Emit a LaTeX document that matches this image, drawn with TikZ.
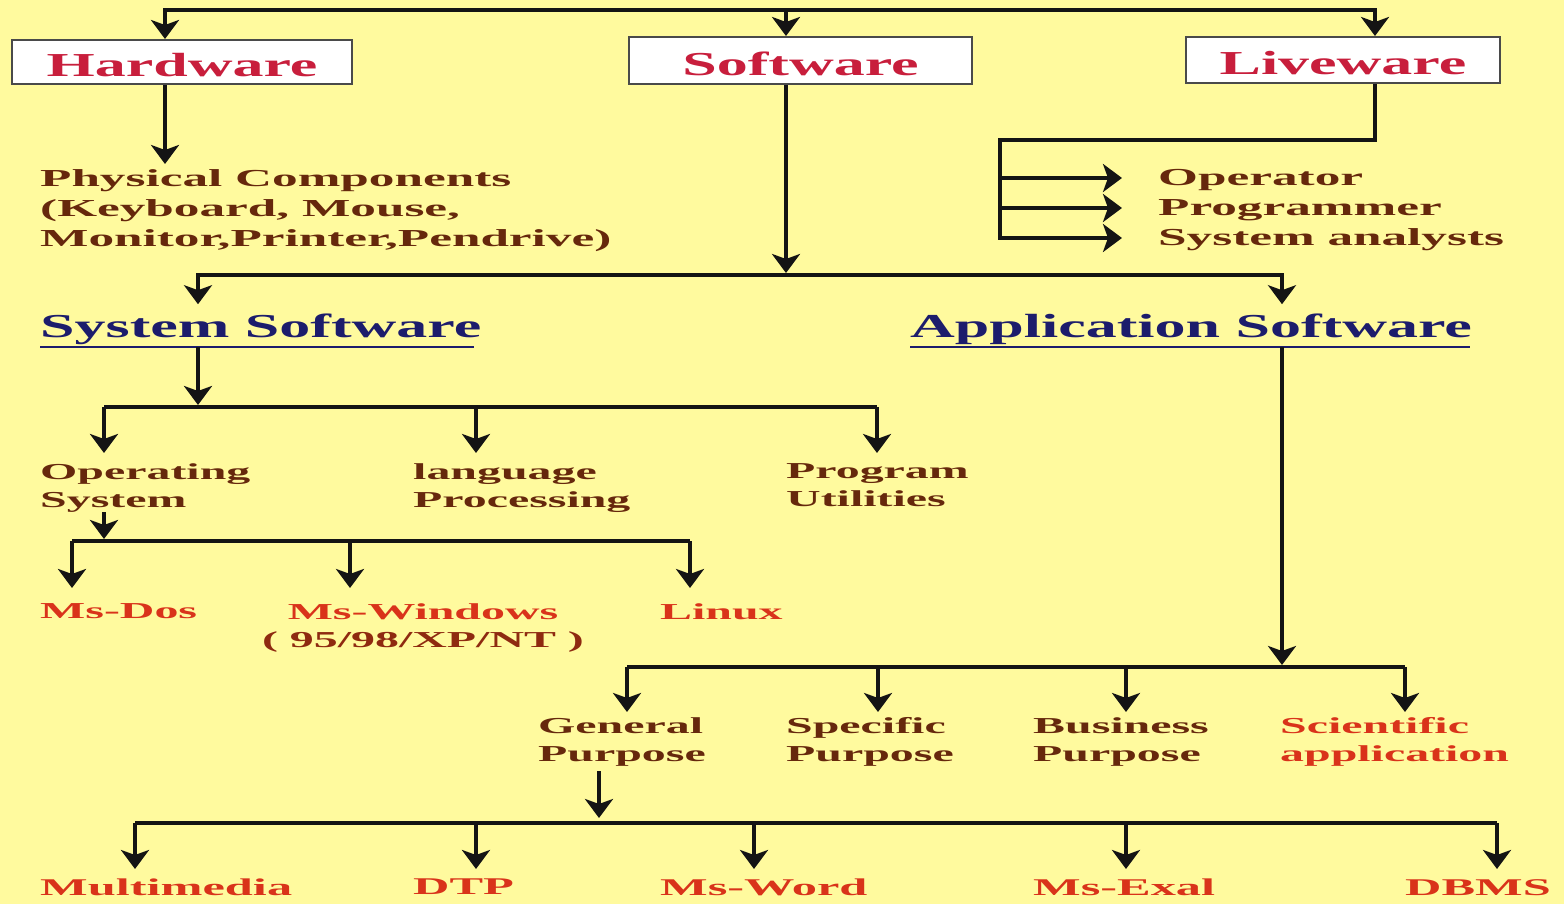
\documentclass[tikz,border=0pt]{standalone}
\usepackage{fontspec}
\usetikzlibrary{arrows.meta}
\newfontfamily\widefont[FakeStretch=2.1]{Liberation Serif}
\newfontfamily\midfont[FakeStretch=1.85]{Liberation Serif}
\newcommand\dgBox{\midfont\bfseries\fontsize{33.5}{38}\selectfont}
\newcommand\dgHead{\midfont\bfseries\fontsize{33.5}{38}\selectfont}
\newcommand\dgItem{\widefont\bfseries\fontsize{24.4}{30}\selectfont}
\newcommand\dgSub{\widefont\bfseries\fontsize{22.8}{28}\selectfont}
\newcommand\dgLeaf{\widefont\bfseries\fontsize{24}{29}\selectfont}
\definecolor{paper}{HTML}{FFFA9E}
\definecolor{boxred}{HTML}{C81E3C}
\definecolor{boxline}{HTML}{4A4A4A}
\definecolor{itembrown}{HTML}{66280C}
\definecolor{leafred}{HTML}{D9331A}
\definecolor{darkleaf}{HTML}{8E2A10}
\definecolor{headnavy}{HTML}{1C1C6C}
\begin{document}
\begin{tikzpicture}[x=1pt,y=-1pt,
  ln/.style={line width=3.4pt, draw=black!92},
  arr/.style={ln, -{Stealth[length=19pt,width=28pt,inset=5pt]}},
  uline/.style={line width=2.2pt, draw=headnavy},
  topbox/.style={draw=boxline, line width=2pt, fill=white, text=boxred,
    font=\dgBox, inner sep=0pt, text height=30pt, text depth=0pt},
  lbl/.style={inner sep=0pt, anchor=north west, align=left},
  oneline/.style={inner sep=0pt, anchor=west, text height=16pt, text depth=0pt},
  head/.style={inner sep=0pt, anchor=base west, text=headnavy, font=\dgHead},
  item/.style={lbl, text=itembrown, font=\dgItem},
  sub/.style={lbl, text=itembrown, font=\dgSub},
  leaf/.style={lbl, text=leafred, font=\dgSub},
  bottomleaf/.style={lbl, text=leafred, font=\dgLeaf}]

% background and page size
\fill[paper, use as bounding box] (0,0) rectangle (1564,904);

% three top boxes
\node[topbox, minimum width=340pt, minimum height=44pt] (hw) at (182,62) {Hardware};
\node[topbox, minimum width=343pt, minimum height=47pt] (sw) at (800.5,60.5) {Software};
\node[topbox, minimum width=314pt, minimum height=46pt] (lw) at (1343,60) {Liveware};

% hardware and liveware details
\node[item] (phys) at (40,169) {Physical Components\\(Keyboard, Mouse,\\Monitor,Printer,Pendrive)};
\node[oneline, text=itembrown, font=\dgItem] (op1) at (1158,178) {Operator};
\node[oneline, text=itembrown, font=\dgItem] (op2) at (1158,208) {Programmer};
\node[oneline, text=itembrown, font=\dgItem] (op3) at (1158,238) {System analysts};

% software headings
\node[head] (ss) at (40,337) {System Software};
\node[head] (as) at (910,337) {Application Software};

% system software branches
\node[sub] (os) at (40,463) {Operating\\System};
\node[sub] (lp) at (413,463) {language\\Processing};
\node[sub] (pu) at (786,463) {Program\\Utilities};
\node[leaf] (md) at (40,603) {Ms-Dos};
\node[leaf, anchor=north, align=center] (mw) at (423,603) {Ms-Windows\\\textcolor{darkleaf}{( 95/98/XP/NT )}};
\node[leaf] (lx) at (660,603) {Linux};

% application software branches
\node[sub] (gp) at (538,717) {General\\Purpose};
\node[sub] (sp) at (786,717) {Specific\\Purpose};
\node[sub] (bp) at (1033,717) {Business\\Purpose};
\node[leaf] (sa) at (1280,717) {Scientific\\application};

% general purpose packages
\node[bottomleaf] (mm) at (40,879) {Multimedia};
\node[bottomleaf] (dtp) at (413,879) {DTP};
\node[bottomleaf] (mwd) at (660,879) {Ms-Word};
\node[bottomleaf] (mex) at (1033,879) {Ms-Exal};
\node[bottomleaf] (dbms) at (1405,879) {DBMS};

% junction points of the buses
\coordinate (t1) at (165,10);
\coordinate (t2) at (786,10);
\coordinate (t3) at (1375,10);
\coordinate (b1) at (198,275);
\coordinate (b2) at (786,275);
\coordinate (b3) at (1282,275);
\coordinate (l1) at (1000,140);
\coordinate (s0) at (198,347);
\coordinate (s1) at (198,407);
\coordinate (o1) at (104,407);
\coordinate (o2) at (476,407);
\coordinate (o3) at (877,407);
\coordinate (w0) at (104,541);
\coordinate (w1) at (72,541);
\coordinate (w2) at (350,541);
\coordinate (w3) at (690,541);
\coordinate (a0) at (1282,347);
\coordinate (a1) at (1282,667);
\coordinate (g1) at (627,667);
\coordinate (g2) at (878,667);
\coordinate (g3) at (1126,667);
\coordinate (g4) at (1405,667);
\coordinate (p0) at (599,823);
\coordinate (q1) at (135,823);
\coordinate (q2) at (476,823);
\coordinate (q3) at (754,823);
\coordinate (q4) at (1126,823);
\coordinate (q5) at (1497,823);

% top bus
\draw[arr] (t2) -- (t1) -- (t1 |- hw.north);
\draw[arr] (t2) -- (t3) -- (t3 |- lw.north);
\draw[arr] (t2) -- (t2 |- sw.north);

% hardware
\draw[arr, shorten >=5pt] (t1 |- hw.south) -- (t1 |- phys.north);

% software to its two kinds
\draw[arr, shorten >=2pt] (t2 |- sw.south) -- (b2);
\draw[arr, shorten >=9pt] (b2) -- (b1) -- (b1 |- ss.north);
\draw[arr, shorten >=9pt] (b2) -- (b3) -- (b3 |- as.north);

% liveware
\draw[arr, shorten >=36pt] (t3 |- lw.south) |- (l1) -- (l1 |- op3.west) -- (op3.west);
\draw[arr, shorten >=36pt] (l1 |- op1.west) -- (op1.west);
\draw[arr, shorten >=36pt] (l1 |- op2.west) -- (op2.west);

% underlines of the headings
\draw[uline] (ss.base west |- s0) -- ([xshift=-8pt]ss.base east |- s0);
\draw[uline] (as.base west |- a0) -- ([xshift=-2pt]as.base east |- a0);

% system software
\draw[arr, shorten >=2pt] (s0) -- (s1);
\draw[ln] (o1) -- (o3);
\draw[arr, shorten >=10pt] (o1) -- (o1 |- os.north);
\draw[arr, shorten >=10pt] (o2) -- (o2 |- lp.north);
\draw[arr, shorten >=10pt] (o3) -- (o3 |- pu.north);

% operating systems
\draw[arr, shorten >=2pt] (w0 |- os.south) -- (w0);
\draw[ln] (w1) -- (w3);
\draw[arr, shorten >=15pt] (w1) -- (w1 |- md.north);
\draw[arr, shorten >=15pt] (w2) -- (w2 |- mw.north);
\draw[arr, shorten >=15pt] (w3) -- (w3 |- lx.north);

% application software
\draw[arr, shorten >=2pt] (a0) -- (a1);
\draw[ln] (g1) -- (g4);
\draw[arr, shorten >=5pt] (g1) -- (g1 |- gp.north);
\draw[arr, shorten >=5pt] (g2) -- (g2 |- sp.north);
\draw[arr, shorten >=5pt] (g3) -- (g3 |- bp.north);
\draw[arr, shorten >=5pt] (g4) -- (g4 |- sa.north);

% general purpose packages
\draw[arr, shorten <=5pt, shorten >=5pt] (p0 |- gp.south) -- (p0);
\draw[ln] (q1) -- (q5);
\draw[arr, shorten >=10pt] (q1) -- (q1 |- mm.north);
\draw[arr, shorten >=10pt] (q2) -- (q2 |- dtp.north);
\draw[arr, shorten >=10pt] (q3) -- (q3 |- mwd.north);
\draw[arr, shorten >=10pt] (q4) -- (q4 |- mex.north);
\draw[arr, shorten >=10pt] (q5) -- (q5 |- dbms.north);
\end{tikzpicture}
\end{document}
